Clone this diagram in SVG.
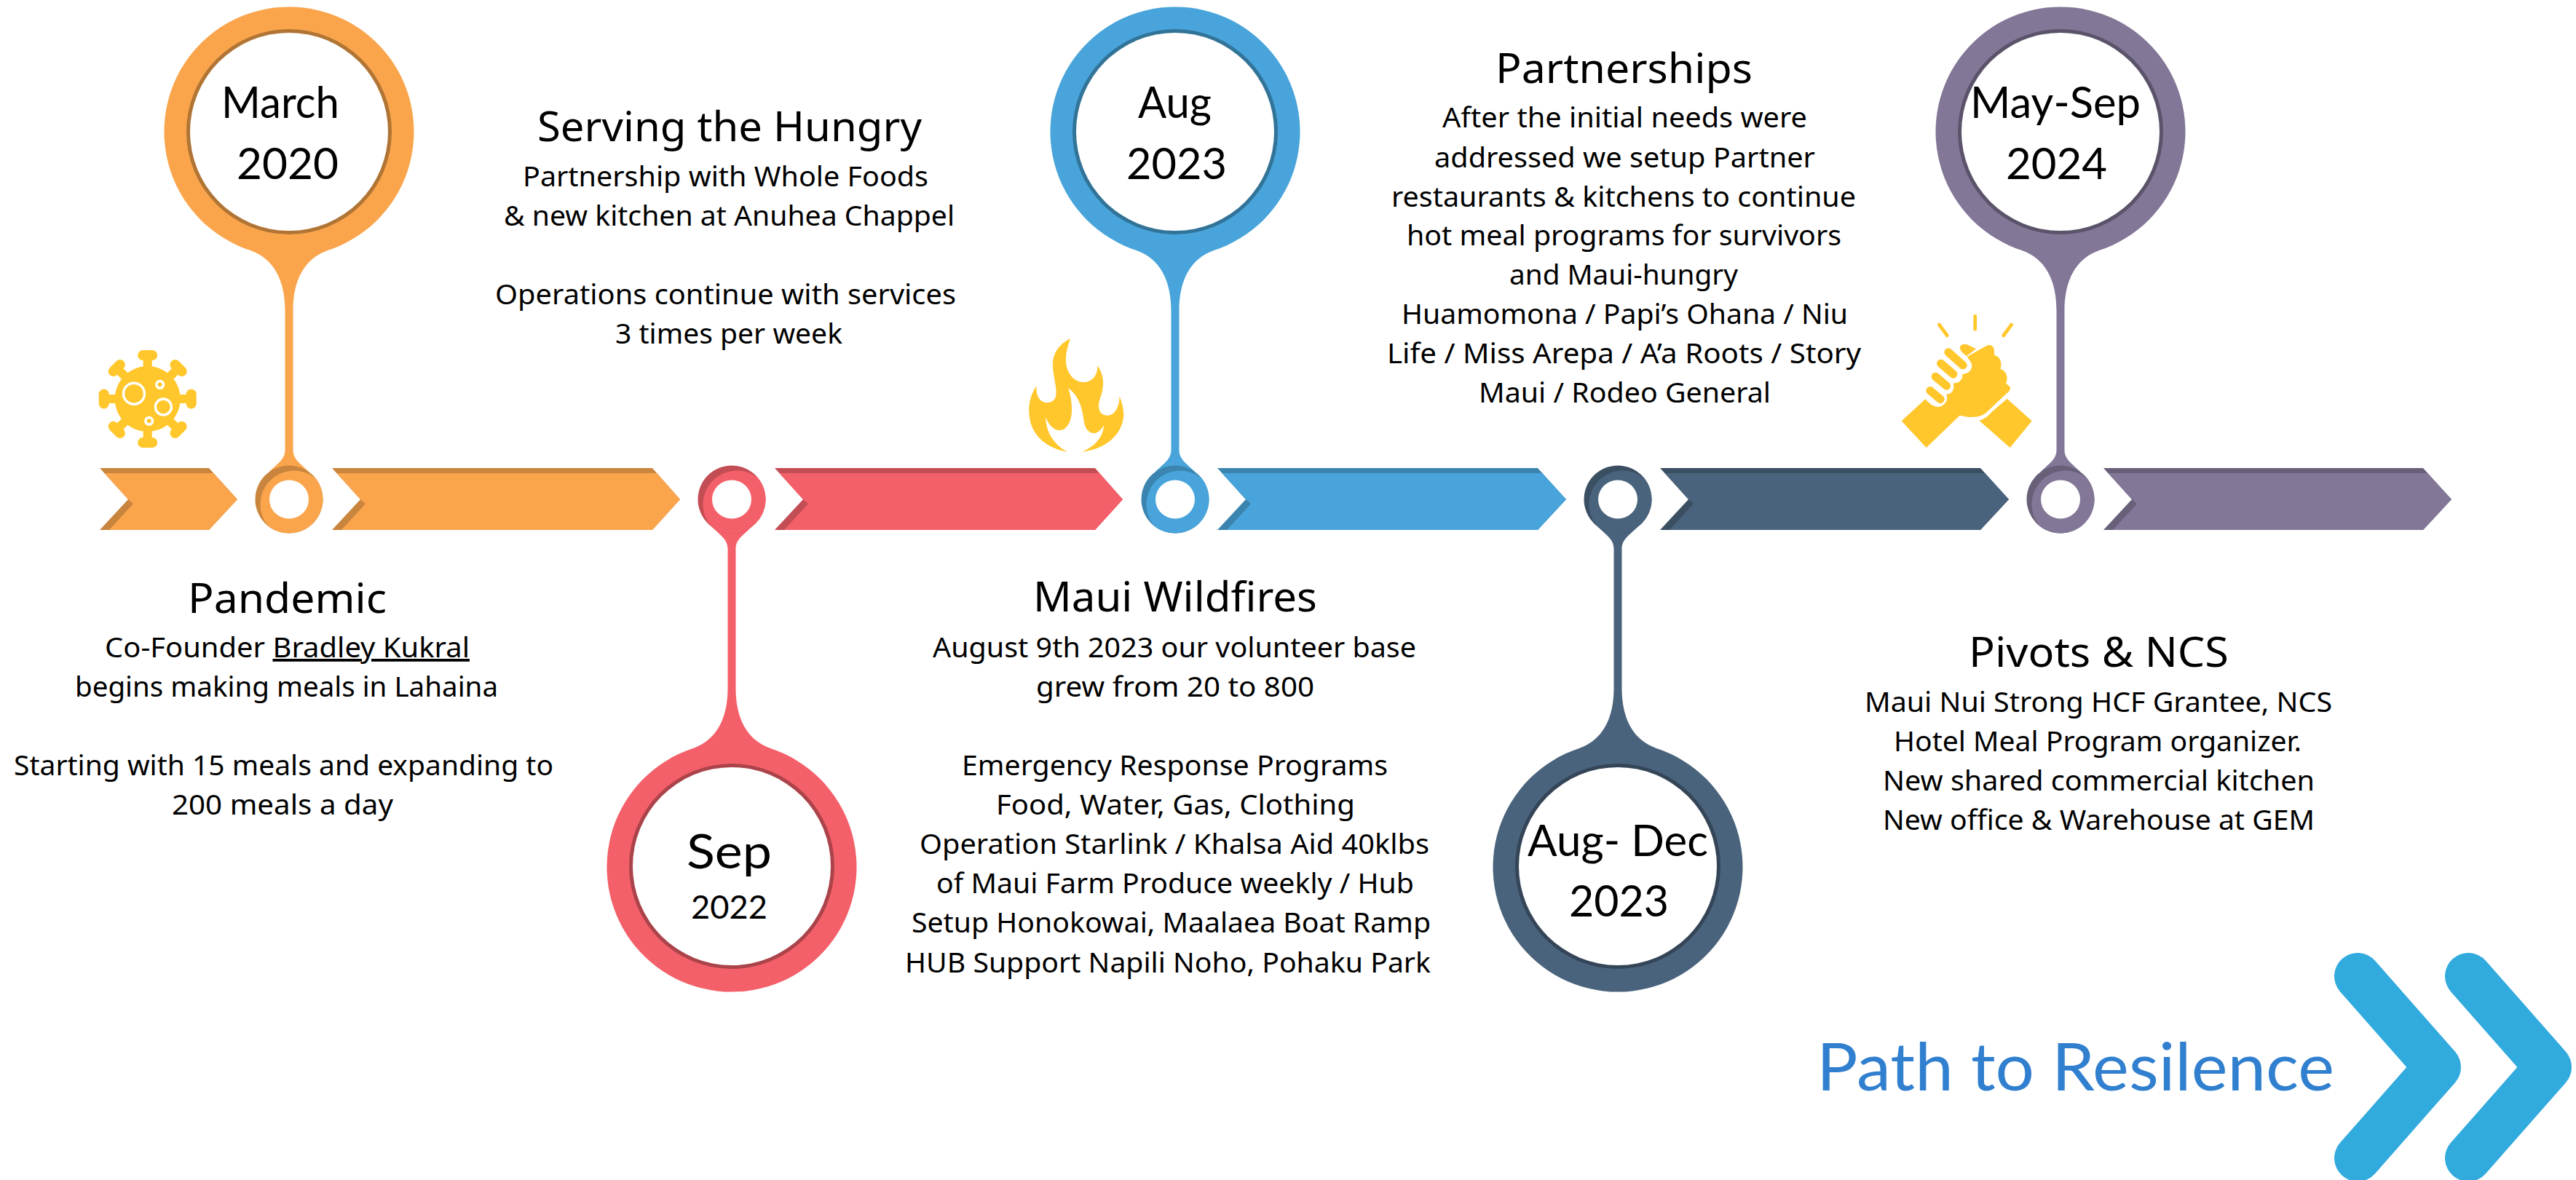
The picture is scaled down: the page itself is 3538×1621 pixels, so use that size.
<svg xmlns="http://www.w3.org/2000/svg" xmlns:xlink="http://www.w3.org/1999/xlink" width="3538" height="1621" viewBox="0 0 3538 1621">
<style>
text{fill:#000;font-family:"Noto Sans","Open Sans",sans-serif;font-size:38px}
.t{font-size:56px}
.d{font-family:Lato,"Noto Sans",sans-serif;font-size:60px}
.dl{font-family:Lato,"Noto Sans",sans-serif;font-size:66px}
.ds{font-family:Lato,"Noto Sans",sans-serif;font-size:44px}
.p{font-family:Lato,"Noto Sans",sans-serif;font-weight:400;font-size:91px;fill:#317fcf}
.o{--f:#faa54c;--s:#c9853d;--r:#b07434}
.e{--f:#f46069;--s:#c34d54;--r:#ab434a}
.a{--f:#48a4da;--s:#3a84af;--r:#327398}
.n{--f:#4a637c;--s:#3b4f63;--r:#344557}
.u{--f:#827797;--s:#685f79;--r:#5b536a}
.f{fill:var(--f)}.s{fill:var(--s)}.r{fill:var(--r)}.w{fill:#fff}
.y{fill:#ffc72c}
.ys{fill:none;stroke:#ffc72c;stroke-linecap:round}
.hole{fill:none;stroke:#fff}
.chv{fill:none;stroke:#31aade;stroke-width:64;stroke-linecap:round;stroke-linejoin:round}
</style>
<defs>
<path id="pin" d="M-5.5,-68L-5.5,-259C-5.5,-300 -20,-330 -53,-342A171.5,171.5 0 1 1 53,-342C20,-330 5.5,-300 5.5,-259L5.5,-68C5.5,-55 15,-50 27,-38L-27,-38C-15,-50 -5.5,-55 -5.5,-68Z"/>
<g id="bead">
<circle r="46.5" class="s"/>
<path d="M36.2,-29.2A46.5,46.5 0 0 0 -29.2,36.2A46.5,46.5 0 0 0 36.2,-29.2Z" class="f"/>
<ellipse rx="27" ry="26.5" class="w"/>
</g>
<g id="spike"><rect x="-6" y="-60" width="12" height="20"/><rect x="-13.5" y="-67" width="27" height="14" rx="7"/></g>
</defs>
<rect width="3538" height="1621" fill="#fff"/>
<g id="connectors">
<g class="o"><path class="s" d="M137,643H287L326,686L287,728H137L176,686Z"/><path class="f" d="M143.5,650H293L326,686L287,728H150L183,692L176,686Z"/></g>
<g class="o"><path class="s" d="M456,643H896L934,686L896,728H456L495,686Z"/><path class="f" d="M462.5,650H902L934,686L896,728H469L502,692L495,686Z"/></g>
<g class="e"><path class="s" d="M1064,643H1504L1542,686L1504,728H1064L1103,686Z"/><path class="f" d="M1070.5,650H1510L1542,686L1504,728H1077L1110,692L1103,686Z"/></g>
<g class="a"><path class="s" d="M1672,643H2112L2151,686L2112,728H1672L1711,686Z"/><path class="f" d="M1678.5,650H2118L2151,686L2112,728H1685L1718,692L1711,686Z"/></g>
<g class="n"><path class="s" d="M2280,643H2720L2759,686L2720,728H2280L2319,686Z"/><path class="f" d="M2286.5,650H2726L2759,686L2720,728H2293L2326,692L2319,686Z"/></g>
<g class="u"><path class="s" d="M2889,643H3328L3367,686L3328,728H2889L2928,686Z"/><path class="f" d="M2895.5,650H3334L3367,686L3328,728H2902L2935,692L2928,686Z"/></g>
</g>
<g id="node-march-2020" class="o">
<g transform="translate(397,686)"><use xlink:href="#pin" class="f"/><use xlink:href="#bead"/></g>
<circle cx="397" cy="181" r="141" class="r"/><circle cx="397" cy="181" r="136" class="w"/>
<text class="d" x="304" y="162" textLength="162" lengthAdjust="spacingAndGlyphs">March</text>
<text class="d" x="325" y="246" textLength="140" lengthAdjust="spacingAndGlyphs">2020</text>
</g>
<g id="node-sep-2022" class="e">
<g transform="translate(1005,686)"><use xlink:href="#pin" class="f" transform="scale(1,-1)"/><use xlink:href="#bead"/></g>
<circle cx="1005" cy="1190" r="141" class="r"/><circle cx="1005" cy="1190" r="136" class="w"/>
<text class="dl" x="943" y="1193" textLength="117" lengthAdjust="spacingAndGlyphs">Sep</text>
<text class="ds" x="949" y="1262" textLength="105" lengthAdjust="spacingAndGlyphs">2022</text>
</g>
<g id="node-aug-2023" class="a">
<g transform="translate(1614,686)"><use xlink:href="#pin" class="f"/><use xlink:href="#bead"/></g>
<circle cx="1614" cy="181" r="141" class="r"/><circle cx="1614" cy="181" r="136" class="w"/>
<text class="d" x="1563" y="162" textLength="101" lengthAdjust="spacingAndGlyphs">Aug</text>
<text class="d" x="1547" y="246" textLength="138" lengthAdjust="spacingAndGlyphs">2023</text>
</g>
<g id="node-aug-dec-2023" class="n">
<g transform="translate(2222,686)"><use xlink:href="#pin" class="f" transform="scale(1,-1)"/><use xlink:href="#bead"/></g>
<circle cx="2222" cy="1190" r="141" class="r"/><circle cx="2222" cy="1190" r="136" class="w"/>
<text class="d" x="2098" y="1176" textLength="248" lengthAdjust="spacingAndGlyphs">Aug- Dec</text>
<text class="d" x="2155" y="1259" textLength="137" lengthAdjust="spacingAndGlyphs">2023</text>
</g>
<g id="node-may-sep-2024" class="u">
<g transform="translate(2830,686)"><use xlink:href="#pin" class="f"/><use xlink:href="#bead"/></g>
<circle cx="2830" cy="181" r="141" class="r"/><circle cx="2830" cy="181" r="136" class="w"/>
<text class="d" x="2706" y="162" textLength="234" lengthAdjust="spacingAndGlyphs">May-Sep</text>
<text class="d" x="2755" y="246" textLength="139" lengthAdjust="spacingAndGlyphs">2024</text>
</g>
<g id="icon-virus" transform="translate(202.7,548)">
<g class="y"><circle r="45"/><use xlink:href="#spike"/><use xlink:href="#spike" transform="rotate(45)"/><use xlink:href="#spike" transform="rotate(90)"/><use xlink:href="#spike" transform="rotate(135)"/><use xlink:href="#spike" transform="rotate(180)"/><use xlink:href="#spike" transform="rotate(225)"/><use xlink:href="#spike" transform="rotate(270)"/><use xlink:href="#spike" transform="rotate(315)"/></g>
<circle class="hole" cx="-18.7" cy="-7.3" r="14.5" stroke-width="3.4"/><circle class="hole" cx="21.7" cy="11" r="11" stroke-width="3.4"/><circle class="hole" cx="17" cy="-19.7" r="4.8" stroke-width="3.6"/><circle class="hole" cx="2" cy="30.3" r="4.8" stroke-width="3.6"/>
</g>
<g id="icon-flame" transform="translate(1390,440) scale(.33333)">
<path class="y" d="M240,75C190,100 165,140 168,190C170,240 190,290 178,320C165,345 120,350 105,310C100,295 100,280 100,270C75,310 65,350 72,400C82,480 150,530 228,542C170,510 140,460 138,398C150,430 175,460 205,452C245,440 260,370 232,280C280,315 290,370 297,420C305,470 350,485 378,432C375,490 330,525 288,542C390,530 455,470 460,390C460,365 452,335 442,312C445,350 425,395 390,392C360,390 350,360 362,325C375,285 388,240 352,186C355,225 330,255 295,255C250,255 220,210 222,160C222,130 232,100 240,75Z"/>
</g>
<g id="icon-hands" transform="translate(2590,410) scale(.33333)">
<path class="y" d="M500,413L602,505L512,615L385,503C410,497 425,480 440,465Z"/>
<path class="y" d="M65,505L163,415C190,445 215,455 235,440C255,425 255,410 250,395C275,395 285,370 278,350C305,350 320,330 315,312C345,312 362,285 352,265L335,240L415,195C430,188 445,195 447,215L447,233C475,240 480,270 472,290C500,300 505,330 495,350L510,362C516,370 513,378 505,385L420,465C395,490 360,495 305,482L167,615Z"/>
<path class="y" d="M305,205C305,190 325,185 335,190L372,208L333,238L312,220Z"/>
<path class="ys" stroke-width="34" d="M258,222L318,275M227,268L278,312M205,322L250,360M183,380L225,415"/>
<path class="ys" stroke-width="14" d="M220,108L253,153M368,73V127M518,108L485,153"/>
</g>
<g id="text-pandemic">
<text class="t" x="258" y="842" textLength="273" lengthAdjust="spacingAndGlyphs">Pandemic</text>
<text x="144" y="903" textLength="501" lengthAdjust="spacingAndGlyphs">Co-Founder <tspan text-decoration="underline">Bradley Kukral</tspan></text>
<text x="103" y="957" textLength="581" lengthAdjust="spacingAndGlyphs">begins making meals in Lahaina</text>
<text x="19" y="1065" textLength="741" lengthAdjust="spacingAndGlyphs">Starting with 15 meals and expanding to</text>
<text x="236" y="1119" textLength="304" lengthAdjust="spacingAndGlyphs">200 meals a day</text>
</g>
<g id="text-serving">
<text class="t" x="738" y="194" textLength="528" lengthAdjust="spacingAndGlyphs">Serving the Hungry</text>
<text x="718" y="256" textLength="557" lengthAdjust="spacingAndGlyphs">Partnership with Whole Foods</text>
<text x="692" y="310" textLength="619" lengthAdjust="spacingAndGlyphs">&amp; new kitchen at Anuhea Chappel</text>
<text x="680" y="418" textLength="633" lengthAdjust="spacingAndGlyphs">Operations continue with services</text>
<text x="845" y="472" textLength="312" lengthAdjust="spacingAndGlyphs">3 times per week</text>
</g>
<g id="text-wildfires">
<text class="t" x="1419" y="840" textLength="390" lengthAdjust="spacingAndGlyphs">Maui Wildfires</text>
<text x="1281" y="903" textLength="664" lengthAdjust="spacingAndGlyphs">August 9th 2023 our volunteer base</text>
<text x="1423" y="957" textLength="382" lengthAdjust="spacingAndGlyphs">grew from 20 to 800</text>
<text x="1321" y="1065" textLength="585" lengthAdjust="spacingAndGlyphs">Emergency Response Programs</text>
<text x="1368" y="1119" textLength="493" lengthAdjust="spacingAndGlyphs">Food, Water, Gas, Clothing</text>
<text x="1263" y="1173" textLength="700" lengthAdjust="spacingAndGlyphs">Operation Starlink / Khalsa Aid 40klbs</text>
<text x="1286" y="1227" textLength="656" lengthAdjust="spacingAndGlyphs">of Maui Farm Produce weekly / Hub</text>
<text x="1252" y="1281" textLength="713" lengthAdjust="spacingAndGlyphs">Setup Honokowai, Maalaea Boat Ramp</text>
<text x="1243" y="1336" textLength="722" lengthAdjust="spacingAndGlyphs">HUB Support Napili Noho, Pohaku Park</text>
</g>
<g id="text-partnerships">
<text class="t" x="2054" y="114" textLength="353" lengthAdjust="spacingAndGlyphs">Partnerships</text>
<text x="1981" y="175" textLength="501" lengthAdjust="spacingAndGlyphs">After the initial needs were</text>
<text x="1970" y="230" textLength="523" lengthAdjust="spacingAndGlyphs">addressed we setup Partner</text>
<text x="1911" y="284" textLength="638" lengthAdjust="spacingAndGlyphs">restaurants &amp; kitchens to continue</text>
<text x="1932" y="337" textLength="597" lengthAdjust="spacingAndGlyphs">hot meal programs for survivors</text>
<text x="2073" y="391" textLength="314" lengthAdjust="spacingAndGlyphs">and Maui-hungry</text>
<text x="1925" y="445" textLength="613" lengthAdjust="spacingAndGlyphs">Huamomona / Papi’s Ohana / Niu</text>
<text x="1905" y="499" textLength="651" lengthAdjust="spacingAndGlyphs">Life / Miss Arepa / A’a Roots / Story</text>
<text x="2031" y="553" textLength="401" lengthAdjust="spacingAndGlyphs">Maui / Rodeo General</text>
</g>
<g id="text-pivots">
<text class="t" x="2704" y="916" textLength="357" lengthAdjust="spacingAndGlyphs">Pivots &amp; NCS</text>
<text x="2561" y="978" textLength="642" lengthAdjust="spacingAndGlyphs">Maui Nui Strong HCF Grantee, NCS</text>
<text x="2601" y="1032" textLength="560" lengthAdjust="spacingAndGlyphs">Hotel Meal Program organizer.</text>
<text x="2586" y="1086" textLength="593" lengthAdjust="spacingAndGlyphs">New shared commercial kitchen</text>
<text x="2586" y="1140" textLength="593" lengthAdjust="spacingAndGlyphs">New office &amp; Warehouse at GEM</text>
</g>
<g id="path-to-resilience">
<text class="p" x="2495" y="1498" textLength="711" lengthAdjust="spacingAndGlyphs">Path to Resilence</text>
<path class="chv" d="M3238,1341L3348,1466L3238,1591"/>
<path class="chv" d="M3390,1341L3500,1466L3390,1591"/>
</g>
</svg>
